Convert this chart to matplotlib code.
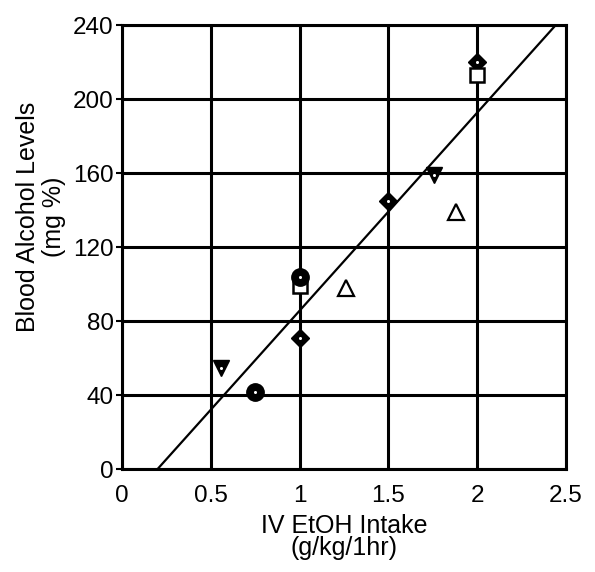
import matplotlib
matplotlib.use("Agg")
import matplotlib.pyplot as plt
import numpy as np

plt.rcParams['font.family'] = ['Liberation Sans', 'DejaVu Sans']

# Data
diamond_x = [1.0, 1.5, 2.0]
diamond_y = [71, 145, 220]
square_x = [1.0, 2.0]
square_y = [99, 213]
circle_x = [0.75, 1.0]
circle_y = [42, 104]
tri_down_x = [0.56, 1.76]
tri_down_y = [55, 159]
tri_up_x = [1.26, 1.88]
tri_up_y = [98, 139]

fit_slope = 107.0
fit_intercept = -21.3
fit_x_range = [0.2, 2.44]

x_ticks = [0, 0.5, 1, 1.5, 2, 2.5]
x_tick_labels = ['0', '0.5', '1', '1.5', '2', '2.5']
y_ticks = [0, 40, 80, 120, 160, 200, 240]

fig = plt.figure(figsize=(5.95, 5.72), dpi=100)
ax = fig.add_axes([0.205, 0.1795, 0.746, 0.7763])
ax.set_xlim(0, 2.5)
ax.set_ylim(0, 240)

ax.set_xticks(x_ticks)
ax.set_xticklabels(x_tick_labels)
ax.set_yticks(y_ticks)
ax.grid(True, color='black', linewidth=2.2, zorder=0)
ax.set_axisbelow(True)
for s in ax.spines.values():
    s.set_linewidth(2.2)

ax.tick_params(axis='y', direction='out', length=4, width=1.5, pad=2, labelsize=17.5)
ax.tick_params(axis='x', length=0, pad=11, labelsize=17.5)

# regression line
fx = np.array(fit_x_range)
ax.plot(fx, fit_slope * fx + fit_intercept, color='black', linewidth=1.6, zorder=2)

ax.plot(diamond_x, diamond_y, linestyle='none', marker='D', markersize=9.5,
        markerfacecolor='black', markeredgecolor='black', zorder=3)
ax.plot(square_x, square_y, linestyle='none', marker='s', markersize=10.5,
        markerfacecolor='white', markeredgecolor='black', markeredgewidth=1.8, zorder=3)
ax.plot(circle_x, circle_y, linestyle='none', marker='o', markersize=12.5,
        markerfacecolor='black', markeredgecolor='black', zorder=4)
ax.plot(tri_down_x, tri_down_y, linestyle='none', marker='v', markersize=11.5,
        markerfacecolor='black', markeredgecolor='black', zorder=3)
ax.plot(tri_up_x, tri_up_y, linestyle='none', marker='^', markersize=11.5,
        markerfacecolor='white', markeredgecolor='black', markeredgewidth=1.6, zorder=3)

# white center dots of filled markers
for xs, ys in [(diamond_x, diamond_y), (circle_x, circle_y), (tri_down_x, tri_down_y)]:
    ax.plot(xs, ys, linestyle='none', marker='o', markersize=2.2,
            markerfacecolor='white', markeredgecolor='white', markeredgewidth=0, zorder=5)

ax.set_xlabel('IV EtOH Intake\n(g/kg/1hr)', fontsize=18, linespacing=0.92)
ax.set_ylabel('Blood Alcohol Levels\n(mg %)', fontsize=18, linespacing=1.15)
ax.xaxis.set_label_coords(0.5, -0.1)
ax.yaxis.set_label_coords(-0.125, 0.568)

fig.savefig('out.png', dpi=100)
